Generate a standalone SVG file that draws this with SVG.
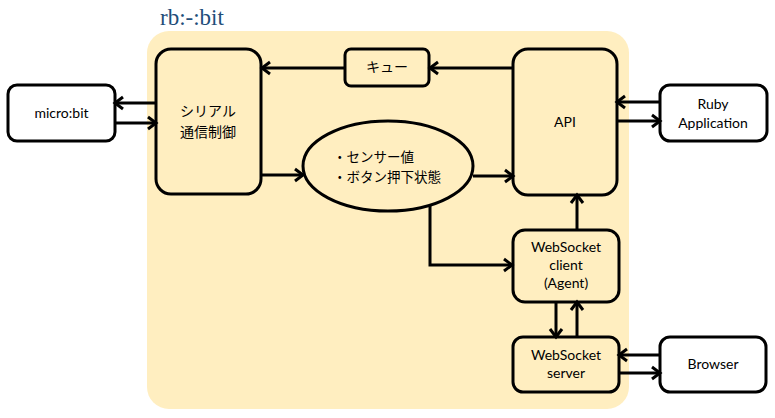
<svg xmlns="http://www.w3.org/2000/svg" width="775" height="418" viewBox="0 0 775 418">
<defs>
<marker id="ah" markerWidth="14" markerHeight="16" refX="11" refY="8" orient="auto" markerUnits="userSpaceOnUse">
<path d="M3,2 L11,8 L3,14" fill="none" stroke="#000" stroke-width="3" stroke-linejoin="miter"/>
</marker>
<style>
.box{fill:#FFEEC0;stroke:#000;stroke-width:3}
.ext{fill:#fff;stroke:#000;stroke-width:3}
.t{font-family:Lato,"Open Sans","Liberation Sans",sans-serif;font-size:14px;fill:#000;text-anchor:middle}
.j{font-family:"Noto Sans CJK JP",sans-serif;font-size:14px;fill:#000;text-anchor:middle}
.js{font-family:"Noto Sans CJK JP",sans-serif;font-size:13.5px;fill:#000;text-anchor:start}
.c{fill:none;stroke:#000;stroke-width:3;marker-end:url(#ah)}
</style>
</defs>
<rect id="rbbit" x="147" y="31" width="482" height="378" rx="22" fill="#FFEEC0"/>
<text x="160" y="25" font-family="'Liberation Serif',serif" font-size="23" fill="#1F4E79">rb:-:bit</text>
<g id="microbit"><rect class="ext" x="8" y="85" width="107" height="56" rx="9"/><text class="t" x="61.5" y="118">micro:bit</text></g>
<g id="serial"><rect class="box" x="156" y="49" width="105" height="145" rx="15"/><text class="j" x="208" y="116">シリアル</text><text class="j" x="208" y="137">通信制御</text></g>
<g id="queue"><rect class="box" x="345" y="49" width="84" height="37" rx="6"/><text class="j" x="387" y="72">キュー</text></g>
<g id="api"><rect class="box" x="513" y="49" width="104" height="146" rx="15"/><text class="t" x="565" y="127">API</text></g>
<g id="data"><ellipse class="box" cx="388" cy="166" rx="85" ry="45"/><text class="js" x="333" y="162">・センサー値</text><text class="js" x="333" y="182">・ボタン押下状態</text></g>
<g id="wsclient"><rect class="box" x="513" y="230" width="106" height="72" rx="12"/><text class="t" x="566" y="252">WebSocket</text><text class="t" x="566" y="270">client</text><text class="t" x="566" y="288">(Agent)</text></g>
<g id="wsserver"><rect class="box" x="513" y="337" width="106" height="55" rx="10"/><text class="t" x="566" y="360">WebSocket</text><text class="t" x="566" y="378">server</text></g>
<g id="ruby"><rect class="ext" x="660" y="85" width="107" height="56" rx="10"/><text class="t" x="713" y="109">Ruby</text><text class="t" x="713" y="128">Application</text></g>
<g id="browser"><rect class="ext" x="660" y="337" width="106" height="55" rx="10"/><text class="t" x="713" y="369">Browser</text></g>
<g id="connectors">
<path class="c" d="M156,103 H115"/>
<path class="c" d="M115,123 H156"/>
<path class="c" d="M345,68 H262"/>
<path class="c" d="M513,68 H430"/>
<path class="c" d="M261,175 H303"/>
<path class="c" d="M473,176 H513"/>
<path class="c" d="M430,205 V265 H512"/>
<path class="c" d="M577,230 V195"/>
<path class="c" d="M556,302 V337"/>
<path class="c" d="M577,337 V302"/>
<path class="c" d="M660,102 H617"/>
<path class="c" d="M617,121 H660"/>
<path class="c" d="M660,355 H619"/>
<path class="c" d="M619,373 H660"/>
</g>
</svg>
